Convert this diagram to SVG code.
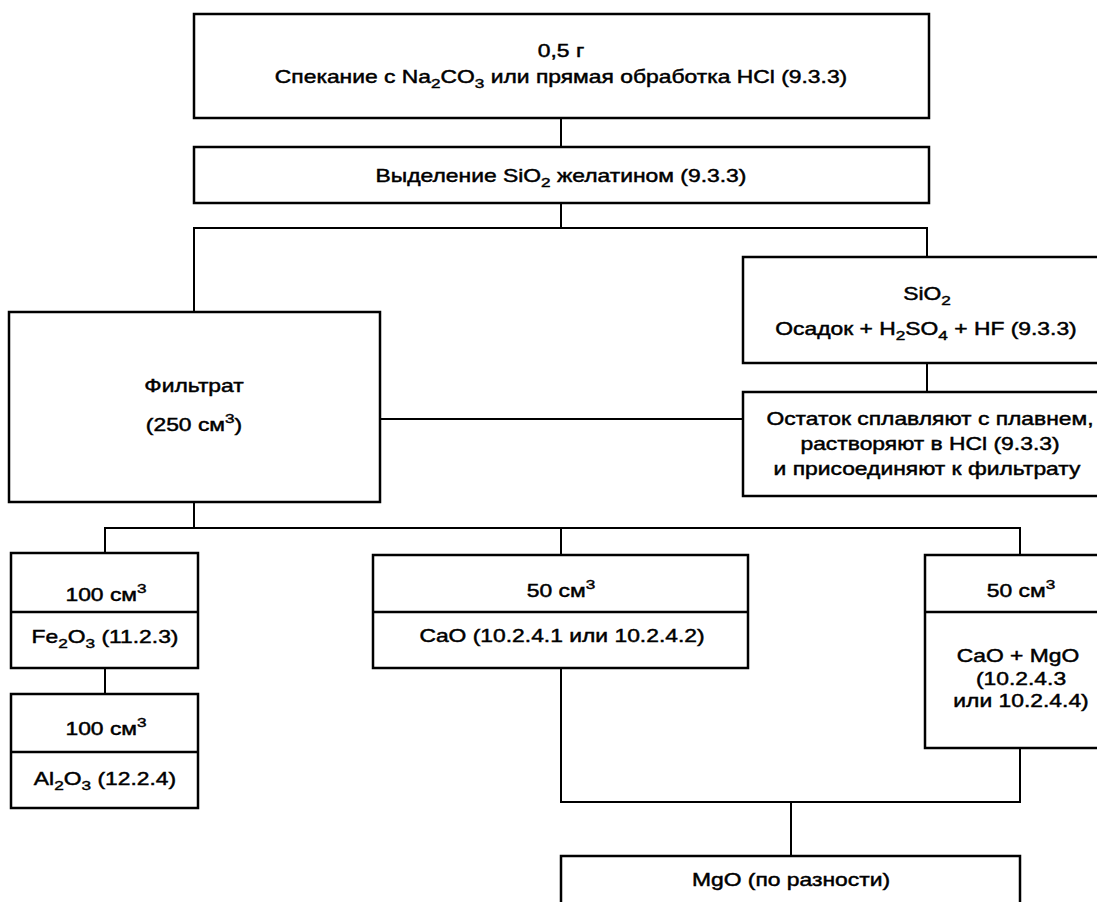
<svg xmlns="http://www.w3.org/2000/svg" width="1097" height="902" viewBox="0 0 1097 902">
<style>
.box{fill:#fff;stroke:#000;stroke-width:2.5}
.div{stroke:#000;stroke-width:2.5;fill:none}
.conn{stroke:#000;stroke-width:2;fill:none}
text{font-family:"Liberation Sans",Arial,sans-serif;font-size:18px;fill:#000;stroke:#000;stroke-width:0.45;text-anchor:middle}
.s{font-size:13.5px}
</style>
<rect width="1097" height="902" fill="#fff"/>
<g id="connectors">
<path class="conn" d="M561,118V147"/>
<path class="conn" d="M561,203V228"/>
<path class="conn" d="M194,312V228H927V257"/>
<path class="conn" d="M927,363V392"/>
<path class="conn" d="M380,419H743"/>
<path class="conn" d="M194,502V528"/>
<path class="conn" d="M105,553V528H1020V555"/>
<path class="conn" d="M561,528V555"/>
<path class="conn" d="M105,668V694"/>
<path class="conn" d="M561,668V802H1020V748"/>
<path class="conn" d="M791,802V856"/>
</g>
<g id="n-start">
<rect class="box" x="194" y="14" width="735" height="104"/>
<text transform="translate(561,57) scale(1.27,1)">0,5 г</text>
<text transform="translate(561,83) scale(1.27,1)">Спекание с Na<tspan class="s" dy="5">2</tspan><tspan dy="-5">CO</tspan><tspan class="s" dy="5">3</tspan><tspan dy="-5"> или прямая обработка HCl (9.3.3)</tspan></text>
</g>
<g id="n-sio2sep">
<rect class="box" x="194" y="147" width="735" height="56"/>
<text transform="translate(561,182) scale(1.27,1)">Выделение SiO<tspan class="s" dy="5">2</tspan><tspan dy="-5"> желатином (9.3.3)</tspan></text>
</g>
<g id="n-sio2">
<rect class="box" x="743" y="257" width="370" height="106"/>
<text transform="translate(927,300) scale(1.27,1)">SiO<tspan class="s" dy="5">2</tspan></text>
<text transform="translate(926,335) scale(1.27,1)">Осадок + H<tspan class="s" dy="5">2</tspan><tspan dy="-5">SO</tspan><tspan class="s" dy="5">4</tspan><tspan dy="-5"> + HF (9.3.3)</tspan></text>
</g>
<g id="n-residue">
<rect class="box" x="743" y="392" width="370" height="104"/>
<text transform="translate(930,425) scale(1.27,1)">Остаток сплавляют с плавнем,</text>
<text transform="translate(930,450) scale(1.27,1)">растворяют в HCl (9.3.3)</text>
<text transform="translate(927,475) scale(1.27,1)">и присоединяют к фильтрату</text>
</g>
<g id="n-filtrate">
<rect class="box" x="9" y="312" width="371" height="190"/>
<text transform="translate(194,392) scale(1.27,1)">Фильтрат</text>
<text transform="translate(194,431) scale(1.27,1)">(250 см<tspan class="s" dy="-8">3</tspan><tspan dy="8">)</tspan></text>
</g>
<g id="n-fe">
<rect class="box" x="11" y="553" width="187" height="115"/>
<path class="div" d="M11,612H198"/>
<text transform="translate(106,601) scale(1.27,1)">100 см<tspan class="s" dy="-8">3</tspan></text>
<text transform="translate(105,643) scale(1.27,1)">Fe<tspan class="s" dy="5">2</tspan><tspan dy="-5">O</tspan><tspan class="s" dy="5">3</tspan><tspan dy="-5"> (11.2.3)</tspan></text>
</g>
<g id="n-al">
<rect class="box" x="11" y="694" width="187" height="114"/>
<path class="div" d="M11,752H198"/>
<text transform="translate(106,735) scale(1.27,1)">100 см<tspan class="s" dy="-8">3</tspan></text>
<text transform="translate(105,785) scale(1.27,1)">Al<tspan class="s" dy="5">2</tspan><tspan dy="-5">O</tspan><tspan class="s" dy="5">3</tspan><tspan dy="-5"> (12.2.4)</tspan></text>
</g>
<g id="n-cao">
<rect class="box" x="373" y="555" width="375" height="113"/>
<path class="div" d="M373,612H748"/>
<text transform="translate(561,597) scale(1.27,1)">50 см<tspan class="s" dy="-8">3</tspan></text>
<text transform="translate(562,642) scale(1.27,1)">CaO (10.2.4.1 или 10.2.4.2)</text>
</g>
<g id="n-camgo">
<rect class="box" x="925" y="555" width="190" height="193"/>
<path class="div" d="M925,612H1115"/>
<text transform="translate(1021,597) scale(1.27,1)">50 см<tspan class="s" dy="-8">3</tspan></text>
<text transform="translate(1018,662) scale(1.27,1)">CaO + MgO</text>
<text transform="translate(1021,685) scale(1.27,1)">(10.2.4.3</text>
<text transform="translate(1021,707) scale(1.27,1)">или 10.2.4.4)</text>
</g>
<g id="n-mgo">
<rect class="box" x="561" y="856" width="459" height="60"/>
<text transform="translate(791,886) scale(1.27,1)">MgO (по разности)</text>
</g>
</svg>
